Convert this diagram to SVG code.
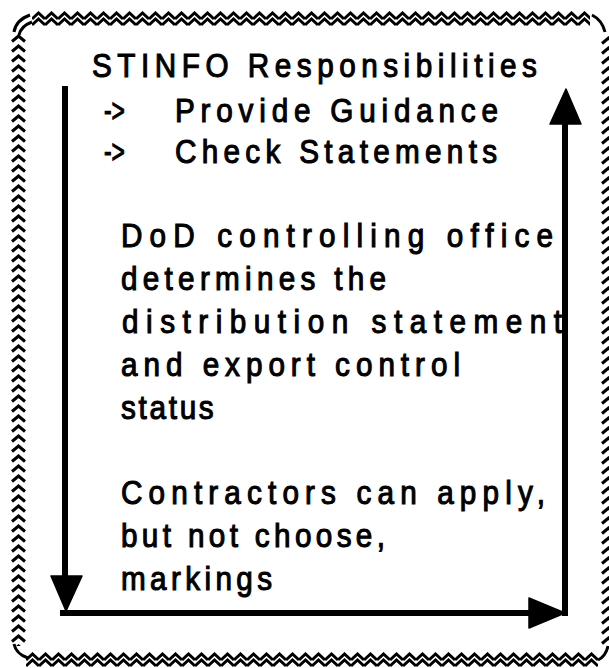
<svg xmlns="http://www.w3.org/2000/svg" width="609" height="668" viewBox="0 0 609 668">
  <style>
    .txt { font-family: "Liberation Sans", "DejaVu Sans", sans-serif; font-size: 33px; fill: #000; stroke: #000; stroke-width: 1.1; }
    .wire { stroke: #000; stroke-width: 6; fill: none; stroke-linecap: square; }
    .head { fill: #000; stroke: #000; stroke-width: 1.5; stroke-linejoin: round; }
    .zig { stroke: #000; stroke-width: 3; fill: none; stroke-linejoin: miter; }
  </style>
  <defs>
    <!-- horizontal band of stacked zigzags -->
    <pattern id="hz" patternUnits="userSpaceOnUse" x="0" y="0" width="13" height="16">
      <path class="zig" d="M0,8 L6.5,2 L13,8 M0,14 L6.5,8 L13,14"/>
    </pattern>
    <!-- vertical column of chevrons -->
    <pattern id="vz" patternUnits="userSpaceOnUse" x="0" y="0" width="17" height="10">
      <path class="zig" d="M2,7.5 L8.5,2 L15,7.5"/>
    </pattern>
  </defs>
  <rect width="609" height="668" fill="#fff"/>

  <!-- decorative frame -->
  <g id="frame">
    <g transform="translate(32,11)"><rect width="558" height="16" fill="url(#hz)"/></g>
    <g transform="translate(26,652)"><rect width="572" height="16" fill="url(#hz)"/></g>
    <g transform="translate(10,34)"><rect width="17" height="612" fill="url(#vz)"/></g>
    <g transform="translate(600,36)"><rect width="17" height="612" fill="url(#vz)"/></g>
    <!-- rounded corners -->
    <path class="zig" d="M14,32 Q16,20 30,15"/>
    <path class="zig" d="M19,35 Q21,26 32,22"/>
    <path class="zig" d="M592,15 Q602,20 605,32"/>
    <path class="zig" d="M14,644 Q16,654 28,658"/>
    <path class="zig" d="M598,660 Q606,656 608,646"/>
  </g>

  <!-- flow arrows -->
  <g id="connectors">
    <line class="wire" x1="65" y1="89" x2="65" y2="578"/>
    <polygon class="head" points="51,576 82,576 66,611"/>
    <line class="wire" x1="63" y1="613" x2="530" y2="613"/>
    <polygon class="head" points="529,598 529,628 565,613"/>
    <line class="wire" x1="565" y1="613" x2="565" y2="122"/>
    <polygon class="head" points="550,124 581,124 566,89"/>
  </g>

  <!-- text is set in a narrowed face: each line is scaled 0.9 horizontally -->
  <g id="title">
    <text class="txt" transform="translate(92,77) scale(0.9,1)" textLength="494.4" lengthAdjust="spacing">STINFO Responsibilities</text>
  </g>
  <g id="duty-guidance">
    <text class="txt" transform="translate(104,122) scale(0.9,1)" textLength="23.3" lengthAdjust="spacingAndGlyphs">-&gt;</text>
    <text class="txt" transform="translate(175,122) scale(0.9,1)" textLength="358.9" lengthAdjust="spacing">Provide Guidance</text>
  </g>
  <g id="duty-check">
    <text class="txt" transform="translate(104,163) scale(0.9,1)" textLength="23.3" lengthAdjust="spacingAndGlyphs">-&gt;</text>
    <text class="txt" transform="translate(175,163) scale(0.9,1)" textLength="357.8" lengthAdjust="spacing">Check Statements</text>
  </g>
  <g id="dod-office">
    <text class="txt" transform="translate(121,247) scale(0.9,1)" textLength="480" lengthAdjust="spacing">DoD controlling office</text>
    <text class="txt" transform="translate(121,290) scale(0.9,1)" textLength="294.4" lengthAdjust="spacing">determines the</text>
    <text class="txt" transform="translate(122,333) scale(0.9,1)" textLength="488.9" lengthAdjust="spacing">distribution statement</text>
    <text class="txt" transform="translate(121,376) scale(0.9,1)" textLength="376.7" lengthAdjust="spacing">and export control</text>
    <text class="txt" transform="translate(121,419) scale(0.9,1)" textLength="103" lengthAdjust="spacing">status</text>
  </g>
  <g id="contractors">
    <text class="txt" transform="translate(121,504) scale(0.9,1)" textLength="471.1" lengthAdjust="spacing">Contractors can apply,</text>
    <text class="txt" transform="translate(121,547) scale(0.9,1)" textLength="293.3" lengthAdjust="spacing">but not choose,</text>
    <text class="txt" transform="translate(121,590) scale(0.9,1)" textLength="167.8" lengthAdjust="spacing">markings</text>
  </g>
</svg>
